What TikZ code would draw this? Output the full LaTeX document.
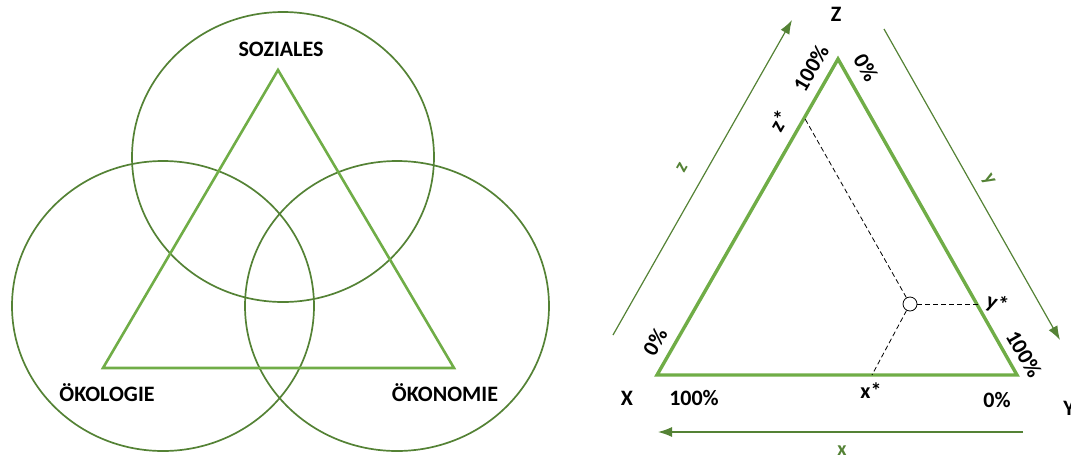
\documentclass[tikz,border=0pt]{standalone}
\usepackage{fontspec}
\setmainfont{Carlito}
\usetikzlibrary{arrows.meta,positioning}
\definecolor{leaf}{RGB}{112,173,71}
\definecolor{moss}{RGB}{84,130,53}

\begin{document}
\begin{tikzpicture}[x=1pt,y=-1pt,>={Latex[length=14pt,width=10pt]},
  lab/.style={font=\bfseries\fontsize{22}{22}\selectfont,inner sep=0pt},
  glab/.style={lab,text=moss,font=\bfseries\fontsize{20}{20}\selectfont},
  ring/.style={draw=moss,line width=1.7pt},
  sidearrow/.style={->,draw=moss,line width=1.2pt},
  guide/.style={dashed,line width=0.8pt,dash pattern=on 5pt off 3pt}]
\useasboundingbox (0,0) rectangle (1071,459);
% Venn diagram with triangle
\draw[ring] (283,157) ellipse[x radius=151,y radius=145];
\draw[ring] (163,306) ellipse[x radius=151,y radius=145];
\draw[ring] (397,306) ellipse[x radius=152,y radius=145];
\coordinate (s) at (278,70); \coordinate (o) at (103,368); \coordinate (k) at (454,368);
\draw[leaf,line width=2.6pt,line join=miter] (s)--(o)--(k)--cycle;
\node[lab] (soz) at (281,49) {SOZIALES};
\node[lab] (oek) at (107,393) {ÖKOLOGIE};
\node[lab] (oekon) at (445,393) {ÖKONOMIE};
% ternary plot
\coordinate (X) at (657,375); \coordinate (Y) at (1017,375); \coordinate (Z) at (838,59);
\draw[leaf,line width=3.4pt,line join=miter] (X)--(Y)--(Z)--cycle;
\coordinate (zs) at (804,117); \coordinate (ys) at (978,304); \coordinate (xs) at (872,375);
\node[circle,draw,fill=white,minimum size=14pt,inner sep=0pt,line width=0.8pt] (p) at (910,304) {};
\draw[guide] (p)--(zs); \draw[guide] (p)--(ys); \draw[guide] (p)--(xs);
\node[lab] (zl) at (836,14) {Z}; \node[lab] (xl) at (627,398) {X};
\node[lab] (yl) at (1069,408) {Y};
\node[lab] (x100) at (694,398) {100\%}; \node[lab] (x0) at (997,400) {0\%};
\node[lab] (xst) at (871,391) {x*};
\node[lab,rotate=60] (z100) at (811,68) {100\%};
\node[lab,rotate=-60] (z0) at (866,68) {0\%};
\node[lab,rotate=60] (zst) at (779,121) {z*};
\node[lab,rotate=60] (y0) at (655,342) {0\%};
\node[lab,rotate=-60] (y100) at (1024,354) {100\%};
\node[lab,rotate=-20] (yst) at (997,304) {y*};
% scale arrows
\coordinate (za) at (613,335); \coordinate (zb) at (792,20);
\coordinate (ya) at (884,29); \coordinate (yb) at (1060,340);
\coordinate (xa) at (1023,432); \coordinate (xb) at (658,432);
\draw[sidearrow] (za)--(zb); \draw[sidearrow] (ya)--(yb); \draw[sidearrow] (xa)--(xb);
\node[glab,rotate=60] (zg) at (682,168) {z};
\node[glab,rotate=-60] (yg) at (988,180) {y};
\node[glab] (xg) at (842,451) {x};
\end{tikzpicture}
\end{document}
